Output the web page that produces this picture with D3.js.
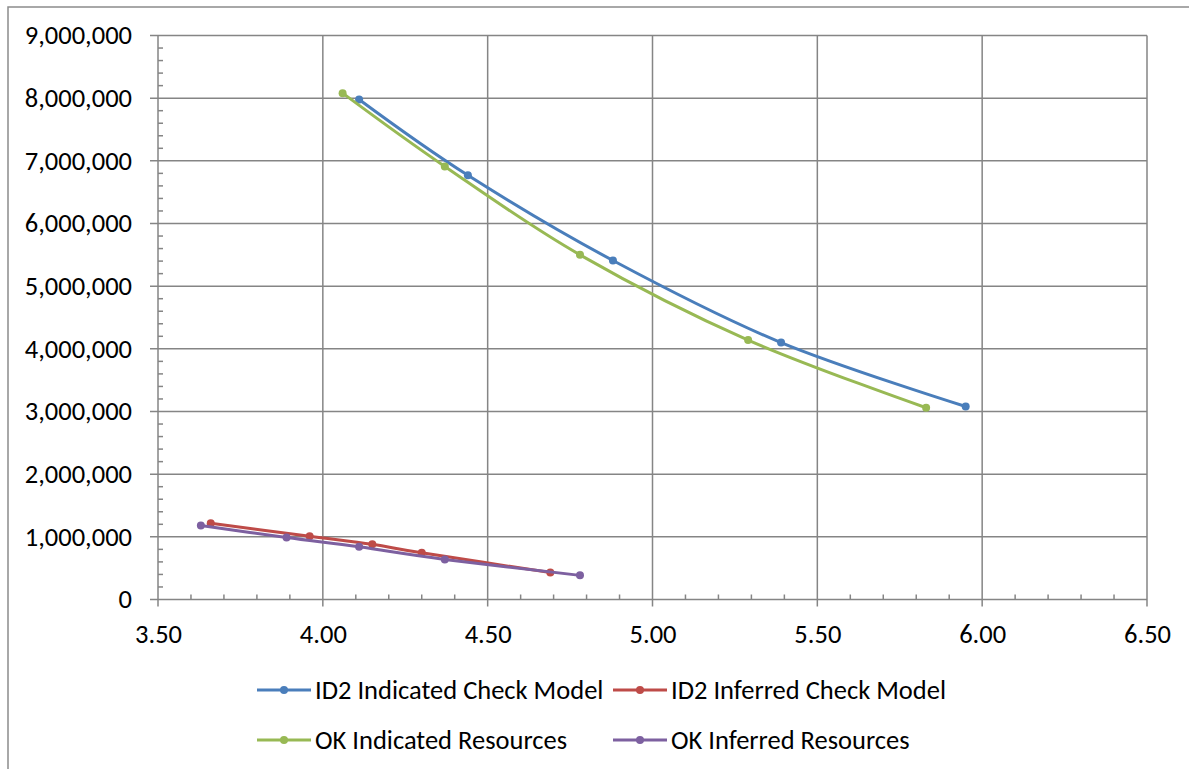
<!DOCTYPE html>
<html>
<head>
<meta charset="utf-8">
<script src="https://cdn.jsdelivr.net/npm/d3@7"></script>
<style>
  body { margin: 0; background: #fff; }
  svg { display: block; }
  .axis-label { font-family: Calibri, Carlito, Lato, sans-serif; font-size: 26.5px; fill: #000; }
  .legend-label { font-family: Calibri, Carlito, Lato, sans-serif; font-size: 26.5px; fill: #000; }
</style>
</head>
<body>
<svg id="chart" width="1189" height="769"></svg>
<script>
// series values (x = grade, y = tonnage)
const seriesNames = ["ID2 Indicated Check Model", "ID2 Inferred Check Model", "OK Indicated Resources", "OK Inferred Resources"];
const seriesColors = ["#4A7EBB", "#BE4B48", "#98B954", "#7D60A0"];

const id2IndicatedX = [4.11, 4.44, 4.88, 5.39, 5.95];
const id2IndicatedY = [7980000, 6770000, 5410000, 4100000, 3080000];
const id2InferredX = [3.66, 3.96, 4.15, 4.30, 4.69];
const id2InferredY = [1215000, 1010000, 880000, 745000, 430000];
const okIndicatedX = [4.06, 4.37, 4.78, 5.29, 5.83];
const okIndicatedY = [8080000, 6910000, 5500000, 4140000, 3060000];
const okInferredX = [3.63, 3.89, 4.11, 4.37, 4.78];
const okInferredY = [1180000, 990000, 840000, 640000, 385000];

const xTicks = [3.5, 4.0, 4.5, 5.0, 5.5, 6.0, 6.5];
const yTicks = [0, 1000000, 2000000, 3000000, 4000000, 5000000, 6000000, 7000000, 8000000, 9000000];

function drawGradeTonnage(graphId) {
    const svg = d3.select("#" + graphId),
        margin = { top: 35.5, right: 42, bottom: 169.5, left: 158 },
        _width = +svg.attr("width"),
        _height = +svg.attr("height"),
        width = _width - margin.left - margin.right,
        height = _height - margin.top - margin.bottom,
        gridColor = "#858585",
        lineWidth = 3,
        markerR = 4;

    // outer chart frame (runs off the right/bottom edge)
    svg.append("rect")
        .attr("x", 8)
        .attr("y", 7)
        .attr("width", 1200)
        .attr("height", 800)
        .attr("fill", "none")
        .attr("stroke", "#8c8c8c")
        .attr("stroke-width", 1.5);

    const g = svg.append("g")
        .attr("transform", "translate(" + margin.left + "," + margin.top + ")");

    const xScale = d3.scaleLinear().domain([3.5, 6.5]).range([0, width]);
    const yScale = d3.scaleLinear().domain([0, 9000000]).range([height, 0]);

    // gridlines
    g.append("g")
        .selectAll("line")
        .data(yTicks)
        .join("line")
        .attr("x1", -8)
        .attr("x2", width)
        .attr("y1", d => yScale(d))
        .attr("y2", d => yScale(d))
        .attr("stroke", gridColor)
        .attr("stroke-width", 1.5);

    g.append("g")
        .selectAll("line")
        .data(xTicks)
        .join("line")
        .attr("x1", d => xScale(d))
        .attr("x2", d => xScale(d))
        .attr("y1", 0)
        .attr("y2", height + 7)
        .attr("stroke", gridColor)
        .attr("stroke-width", 1.5);

    // minor ticks
    const yMinor = d3.range(0, 9000001, 200000).filter(d => d % 1000000 !== 0);
    g.append("g")
        .selectAll("line")
        .data(yMinor)
        .join("line")
        .attr("x1", 0)
        .attr("x2", 5)
        .attr("y1", d => yScale(d))
        .attr("y2", d => yScale(d))
        .attr("stroke", gridColor)
        .attr("stroke-width", 1.5);

    const xMinor = d3.range(35, 65).map(d => d / 10).filter(d => Math.round(d * 10) % 5 !== 0);
    g.append("g")
        .selectAll("line")
        .data(xMinor)
        .join("line")
        .attr("x1", d => xScale(d))
        .attr("x2", d => xScale(d))
        .attr("y1", height)
        .attr("y2", height - 5)
        .attr("stroke", gridColor)
        .attr("stroke-width", 1.5);

    // axes (labels only, lines drawn by the grid above)
    let xAxis = g.append("g")
        .attr("transform", "translate(0," + height + ")")
        .call(d3.axisBottom(xScale).tickValues(xTicks).tickSize(0).tickFormat(d3.format(".2f")));
    xAxis.selectAll(".domain").remove();
    xAxis.selectAll(".tick text")
        .attr("class", "axis-label")
        .attr("y", 43)
        .attr("dy", 0);

    let yAxis = g.append("g")
        .call(d3.axisLeft(yScale).tickValues(yTicks).tickSize(0).tickFormat(d3.format(",")));
    yAxis.selectAll(".domain").remove();
    yAxis.selectAll(".tick text")
        .attr("class", "axis-label")
        .attr("x", -26);

    // series
    const series = [
        { xs: id2IndicatedX, ys: id2IndicatedY },
        { xs: id2InferredX, ys: id2InferredY },
        { xs: okIndicatedX, ys: okIndicatedY },
        { xs: okInferredX, ys: okInferredY }
    ].map((s, i) => ({
        name: seriesNames[i],
        color: seriesColors[i],
        points: s.xs.map((x, j) => ({ x: x, y: s.ys[j] }))
    }));

    const line = d3.line()
        .x(d => xScale(d.x))
        .y(d => yScale(d.y))
        .curve(d3.curveCatmullRom.alpha(0));

    series.forEach(s => {
        g.append("path")
            .datum(s.points)
            .attr("d", line)
            .attr("fill", "none")
            .attr("stroke", s.color)
            .attr("stroke-width", lineWidth)
            .attr("stroke-linejoin", "round");

        g.append("g")
            .selectAll("circle")
            .data(s.points)
            .join("circle")
            .attr("cx", d => xScale(d.x))
            .attr("cy", d => yScale(d.y))
            .attr("r", markerR)
            .attr("fill", s.color);
    });

    // legend, 2 per row
    const legendPos = [
        { x: 257, y: 690 }, { x: 613, y: 690 },
        { x: 257, y: 740 }, { x: 613, y: 740 }
    ];
    series.forEach((s, i) => {
        let lg = svg.append("g")
            .attr("class", "legend")
            .attr("transform", "translate(" + legendPos[i].x + "," + legendPos[i].y + ")");
        lg.append("line")
            .attr("x1", 0).attr("x2", 54)
            .attr("y1", 0).attr("y2", 0)
            .attr("stroke", s.color)
            .attr("stroke-width", lineWidth);
        lg.append("circle")
            .attr("cx", 27).attr("cy", 0).attr("r", markerR)
            .attr("fill", s.color);
        lg.append("text")
            .attr("class", "legend-label")
            .attr("x", 58)
            .attr("y", 0)
            .attr("dy", "0.35em")
            .text(s.name);
    });
}

drawGradeTonnage("chart");
</script>
</body>
</html>
